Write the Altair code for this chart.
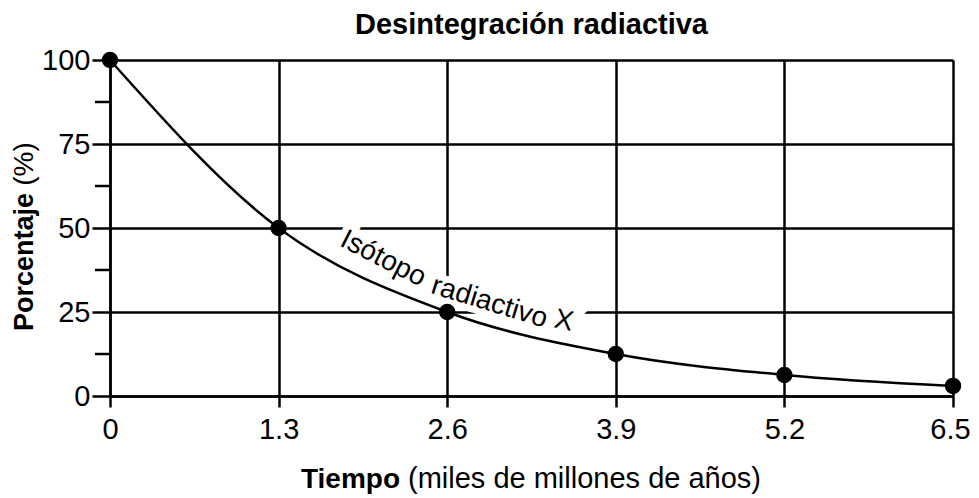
import altair as alt
import pandas as pd

# ---- data ----
tiempo = [0, 1.3, 2.6, 3.9, 5.2, 6.5]
porcentaje = [100, 50, 25, 12.5, 6.25, 3]
y_major = [0, 25, 50, 75, 100]
y_minor = [12.5, 37.5, 62.5, 87.5]

etiqueta_palabras = ["Isótopo", "radiactivo", "X"]
etiqueta_t = [2.105, 2.925, 3.5]
etiqueta_p = [40.8, 27.8, 22.3]
etiqueta_ang = [27, 17, 12]

# white backing behind the label (same words plus the joint between them)
fondo_palabras = ["Isótopo", "radiactivo", "X", "oo X"]
fondo_t = [2.105, 2.925, 3.5, 3.36]
fondo_p = [40.8, 27.8, 22.3, 23.6]
fondo_ang = [27, 17, 12, 14]

titulo = "Desintegración radiactiva"
x_titulo_bold = "Tiempo"
x_titulo_normal = "(miles de millones de años)"
y_titulo_bold = "Porcentaje"
y_titulo_normal = "(%)"

FONT = "Liberation Sans"
W, H = 843, 336
LW = 2.5

df = pd.DataFrame({"t": tiempo, "p": porcentaje})
df_minor = pd.DataFrame({"p": y_minor})
df_lab = pd.DataFrame({"w": etiqueta_palabras, "t": etiqueta_t, "p": etiqueta_p, "a": etiqueta_ang})
df_fondo = pd.DataFrame({"w": fondo_palabras, "t": fondo_t, "p": fondo_p, "a": fondo_ang})

xscale = alt.Scale(domain=[0, 6.5], nice=False, zero=False)
yscale = alt.Scale(domain=[0, 100], nice=False)

common_axis = dict(
    title=None, grid=True, gridColor="black", gridWidth=LW, gridOpacity=1,
    domainColor="black", domainWidth=LW, tickColor="black", tickWidth=LW,
    labelFont=FONT, labelFontSize=29, labelColor="black",
    labelFlush=False, labelOverlap=False,
)
xaxis = alt.Axis(
    values=tiempo, format=".2~f", tickSize=11, labelPadding=8,
    labelOffset={"condition": {"test": "datum.value >= 6.5", "value": -3}, "value": 0},
    **common_axis,
)
yaxis = alt.Axis(values=y_major, tickSize=18, labelPadding=2, **common_axis)

X = alt.X("t:Q", scale=xscale, axis=xaxis)
Y = alt.Y("p:Q", scale=yscale, axis=yaxis)

base = alt.Chart(df)

halo = alt.Chart(df_fondo).mark_text(
    font=FONT, fontSize=28, stroke="white", strokeWidth=13, fill="white",
    align="center", baseline="middle"
).encode(x=X, y=Y, text="w:N", angle=alt.Angle("a:Q", scale=None))

label = alt.Chart(df_lab).mark_text(
    font=FONT, fontSize=28, color="black", align="center", baseline="middle"
).encode(x=X, y=Y, text="w:N", angle=alt.Angle("a:Q", scale=None))

line = base.mark_line(color="black", strokeWidth=LW, interpolate="monotone").encode(x=X, y=Y)
pts = base.mark_circle(color="black", size=270, opacity=1).encode(x=X, y=Y)

minor = alt.Chart(df_minor).mark_rule(color="black", strokeWidth=LW).encode(
    y=Y, x=alt.value(-15), x2=alt.value(0)
)

def txt(s, x, y, weight="normal", align="center", angle=0, baseline="alphabetic", size=28):
    kw = dict(text=s, font=FONT, fontSize=size, fontWeight=weight, color="black",
              align=align, baseline=baseline)
    if angle:
        kw["angle"] = angle
    return alt.Chart(pd.DataFrame({"d": [0]})).mark_text(**kw).encode(
        x=alt.value(x), y=alt.value(y)
    )

t_title = txt(titulo, W / 2, -26, weight="bold", size=29)
t_x1 = txt(x_titulo_bold, 290, 428, weight="bold", align="right", size=28)
t_x2 = txt(x_titulo_normal, 298, 428, align="left", size=29)
t_y1 = txt(y_titulo_bold, -77, 133, weight="bold", align="right", angle=270, size=27)
t_y2 = txt(y_titulo_normal, -77, 104, align="center", angle=270, size=28)

chart = alt.layer(
    minor, halo, label, line, pts, t_title, t_x1, t_x2, t_y1, t_y2
).properties(
    width=W, height=H,
    autosize=alt.AutoSizeParams(type="none"),
    padding={"left": 102, "top": 52, "right": 18, "bottom": 100},
).configure_view(stroke=None)

chart.save("out.html", embed_options={"renderer": "svg", "actions": False})
